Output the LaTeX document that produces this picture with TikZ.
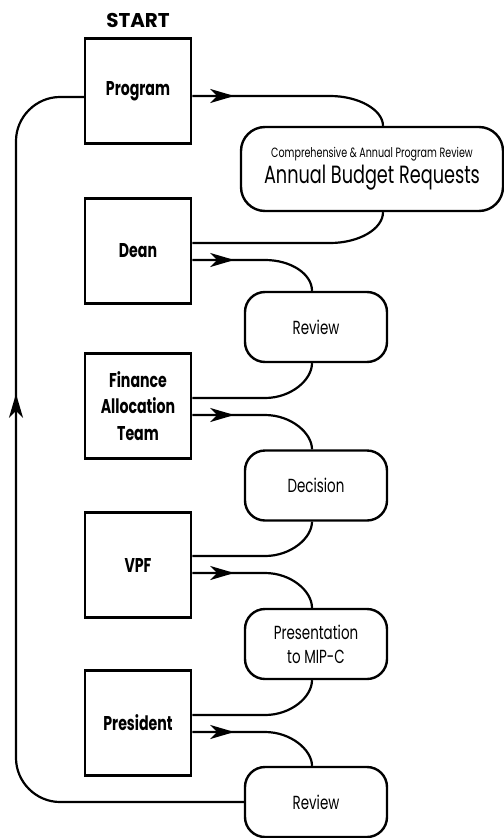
\documentclass[tikz,border=0pt]{standalone}
\usepackage{fontspec}
\setmainfont{Poppins}[FakeStretch=0.71]
\newfontfamily\startfont{Poppins}
\usetikzlibrary{arrows.meta,decorations.markings,calc}
\begin{document}
\begin{tikzpicture}[x=1bp,y=-1bp,
  actor/.style={draw, line width=2.5bp, minimum width=106bp, minimum height=105bp, inner sep=0pt,
    font=\bfseries\fontsize{20}{27}\selectfont, align=center},
  stage/.style={draw, line width=2.4bp, rounded corners=20bp, minimum width=142bp, minimum height=70bp,
    inner sep=0pt, font=\fontsize{19}{24}\selectfont, align=center},
  flow/.style={line width=2.2bp},
  arr/.style={flow, postaction={decorate}, decoration={markings,
    mark=at position #1 with {\arrow{Stealth[length=24bp,width=14bp,inset=7bp]}}}}]
\useasboundingbox (0,0) rectangle (504,838);

\node[font=\startfont\bfseries\fontsize{20}{24}\selectfont] (start) at (138,20) {START};
\node[actor] (prog) at (138,91) {Program};
\node[actor] (dean) at (138,251) {Dean};
\node[actor] (fat) at (138,406) {Finance\\Allocation\\Team};
\node[actor] (vpf) at (138,565) {VPF};
\node[actor] (pres) at (138,723) {President};

\node[stage, minimum width=262bp, minimum height=84bp, rounded corners=24bp] (abr) at (372,169)
  {{\fontsize{13.5}{16}\selectfont Comprehensive \& Annual Program Review}\\[2bp]{\fontsize{25}{28}\selectfont Annual Budget Requests}};
\node[stage] (rev1) at (316,327) {Review};
\node[stage] (dec) at (316,485.5) {Decision};
\node[stage] (mip) at (316,644) {Presentation\\to MIP-C};
\node[stage] (rev2) at (316,802) {Review};

\draw[arr=42bp] (prog.east |- 0,96) -- (330,96) .. controls (359,96) and (383,110) .. (abr.north -| 383,0);
\draw[flow] (abr.south -| 383,0) .. controls (383,229) and (359,243) .. (330,243) -- (dean.east |- 0,243);

\draw[arr=42bp] (dean.east |- 0,260) -- (265,260) .. controls (291,260) and (312,274) .. (rev1.north -| 312,0);
\draw[flow] (rev1.south -| 312,0) .. controls (312,380) and (291,398) .. (265,398) -- (fat.east |- 0,398);

\draw[arr=42bp] (fat.east |- 0,415) -- (265,415) .. controls (291,415) and (312,433) .. (dec.north -| 312,0);
\draw[flow] (dec.south -| 312,0) .. controls (312,538) and (291,556) .. (265,556) -- (vpf.east |- 0,556);

\draw[arr=42bp] (vpf.east |- 0,573) -- (265,573) .. controls (291,573) and (312,591) .. (mip.north -| 312,0);
\draw[flow] (mip.south -| 312,0) .. controls (312,697) and (291,715) .. (265,715) -- (pres.east |- 0,715);

\draw[arr=42bp] (pres.east |- 0,732) -- (265,732) .. controls (291,732) and (312,750) .. (rev2.north -| 312,0);
\draw[arr=617bp] (rev2.west) -- (60,802) .. controls (36,802) and (16,782) .. (16,758) -- (16,141)
  .. controls (16,117) and (36,97) .. (60,97) -- (prog.west |- 0,97);
\end{tikzpicture}
\end{document}
